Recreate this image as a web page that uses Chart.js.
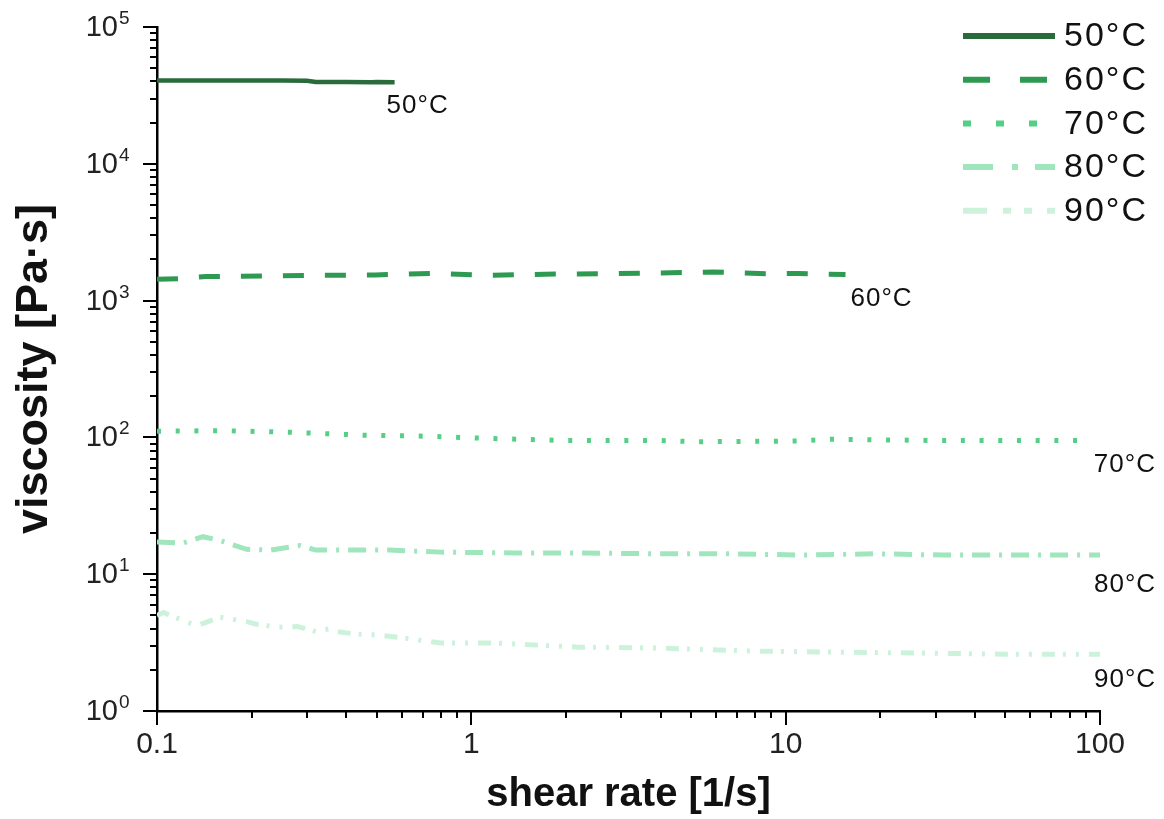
<!DOCTYPE html>
<html>
<head>
<meta charset="utf-8">
<script src="https://cdn.jsdelivr.net/npm/chart.js@4.4.1/dist/chart.umd.min.js"></script>
<style>
html, body { margin: 0; padding: 0; background: #fff; }
#wrap { width: 1164px; height: 819px; }
</style>
</head>
<body>
<div id="wrap"><canvas id="grafico" width="1164" height="819"></canvas></div>
<script>
// series names
var temps = ['50°C', '60°C', '70°C', '80°C', '90°C'];

// shear rate [1/s] / viscosity [Pa·s]
var shear50 = [0.1, 0.15, 0.2, 0.25, 0.3, 0.32, 0.4, 0.48, 0.5, 0.57];
var visc50  = [40600, 40600, 40600, 40600, 40500, 39700, 39600, 39400, 39600, 39500];

var shear60 = [0.1, 0.12, 0.143, 0.216, 0.33, 0.494, 0.75, 1.14, 1.71, 2.57, 3.94, 5.9, 8.9, 11, 13.6, 15.5];
var visc60  = [1430, 1450, 1500, 1510, 1530, 1540, 1580, 1530, 1560, 1570, 1590, 1620, 1570, 1580, 1560, 1550];

var shear70 = [0.1, 0.162, 0.269, 0.44, 0.72, 1.17, 1.94, 4.0, 5.1, 10.9, 14, 29, 50, 85];
var visc70  = [111, 112, 109, 104, 102, 98, 95, 95, 93, 94, 97, 95, 95, 95];

var shear80 = [0.1, 0.121, 0.14, 0.159, 0.193, 0.23, 0.285, 0.32, 0.55, 0.8, 1.37, 2.3, 3.8, 6.7, 11.4, 19.5, 31.7, 54, 100];
var visc80  = [17.2, 16.9, 18.8, 17.6, 15.2, 15.0, 16.2, 15.0, 15.0, 14.5, 14.3, 14.3, 14.1, 14.1, 13.8, 14.1, 13.8, 13.8, 13.8];

var shear90 = [0.1, 0.105, 0.115, 0.134, 0.159, 0.193, 0.208, 0.243, 0.28, 0.32, 0.355, 0.375, 0.43, 0.5, 0.59, 0.8, 1.19, 2.2, 4.1, 8.05, 15, 28, 51.8, 100];
var visc90  = [5.0, 5.25, 4.8, 4.2, 4.85, 4.5, 4.3, 4.1, 4.15, 3.8, 4.0, 3.8, 3.65, 3.6, 3.45, 3.14, 3.14, 2.93, 2.88, 2.74, 2.69, 2.65, 2.6, 2.6];

var xTickLabels = ['0.1', '1', '10', '100'];
var yTickBase = '10';
var yTickExp = ['0', '1', '2', '3', '4', '5'];

// estilos
var colores   = ['#2a6b3c', '#2e9950', '#55cf85', '#a0e6bd', '#cdf2dc'];
var anchos    = [4.5, 5, 5, 5, 5];
var guiones   = [[], [21, 21], [4, 14.7], [18, 9, 3, 9], [13, 8, 3, 10, 3, 10]];
var guionesLeyenda = [[], [27, 30], [8, 25], [30, 19, 6, 17], [24, 16, 8, 13, 8, 15]];
var offsetsEtiqueta = [[-8, 24], [5, 24], [16, 24], [-6, 30], [-6, 26]];

var fuente = "'Liberation Sans', Arial, sans-serif";

function puntos(xs, ys) {
    return xs.map(function (x, i) { return {x: x, y: ys[i]}; });
}

function esDecada(v) {
    var l = Math.log10(v);
    return Math.abs(l - Math.round(l)) < 1e-6;
}

function ticksLog(eMin, eMax) {
    var t = [];
    for (var e = eMin; e < eMax; e++) {
        for (var s = 1; s <= 9; s++) {
            t.push({value: s * Math.pow(10, e)});
        }
    }
    t.push({value: Math.pow(10, eMax)});
    return t;
}

var datos = [[shear50, visc50], [shear60, visc60], [shear70, visc70], [shear80, visc80], [shear90, visc90]];

var datasets = datos.map(function (d, i) {
    return {
        label: temps[i],
        data: puntos(d[0], d[1]),
        borderColor: colores[i],
        backgroundColor: colores[i],
        borderWidth: anchos[i],
        borderDash: guiones[i],
        borderCapStyle: 'butt',
        pointRadius: 0,
        tension: 0,
        fill: false
    };
});

function espaciado(ctx, v) {
    if ('letterSpacing' in ctx) ctx.letterSpacing = v;
}

// tick marks, y labels with exponent, legend and end labels
var marcas = {
    id: 'marcas',
    afterDraw: function (chart) {
        var ctx = chart.ctx;
        var area = chart.chartArea;
        var sx = chart.scales.x, sy = chart.scales.y;
        ctx.save();
        ctx.strokeStyle = '#000';
        ctx.lineWidth = 2;
        ctx.setLineDash([]);
        sx.ticks.forEach(function (t) {
            var px = Math.round(sx.getPixelForValue(t.value));
            var len = esDecada(t.value) ? 14 : 7;
            ctx.beginPath();
            ctx.moveTo(px, area.bottom);
            ctx.lineTo(px, area.bottom + len);
            ctx.stroke();
        });
        ctx.fillStyle = '#222';
        ctx.textBaseline = 'middle';
        sy.ticks.forEach(function (t) {
            var py = Math.round(sy.getPixelForValue(t.value));
            var dec = esDecada(t.value);
            var len = dec ? 14 : 7;
            ctx.beginPath();
            ctx.moveTo(area.left, py);
            ctx.lineTo(area.left - len, py);
            ctx.stroke();
            if (dec) {
                ctx.textAlign = 'right';
                ctx.font = '29px ' + fuente;
                ctx.fillText(yTickBase, area.left - 39, py + 1);
                ctx.textAlign = 'left';
                ctx.font = '19px ' + fuente;
                ctx.fillText(yTickExp[Math.round(Math.log10(t.value))], area.left - 38, py - 8);
            }
        });

        // leyenda
        ctx.textAlign = 'left';
        ctx.textBaseline = 'middle';
        ctx.fillStyle = '#111';
        espaciado(ctx, '2px');
        ctx.font = '34px ' + fuente;
        temps.forEach(function (t, i) {
            var y = 36 + i * 43.7;
            ctx.strokeStyle = colores[i];
            ctx.lineWidth = 6;
            ctx.setLineDash(guionesLeyenda[i]);
            ctx.beginPath();
            ctx.moveTo(963, y);
            ctx.lineTo(1055, y);
            ctx.stroke();
            ctx.fillText(t, 1064, y + 1);
        });

        // etiquetas al final de cada curva
        ctx.font = '26px ' + fuente;
        espaciado(ctx, '1px');
        chart.data.datasets.forEach(function (ds, i) {
            var meta = chart.getDatasetMeta(i);
            var last = meta.data[meta.data.length - 1];
            ctx.fillText(ds.label, last.x + offsetsEtiqueta[i][0], last.y + offsetsEtiqueta[i][1]);
        });
        ctx.restore();
    }
};

new Chart(document.getElementById('grafico'), {
    type: 'line',
    data: {datasets: datasets},
    options: {
        responsive: false,
        devicePixelRatio: 1,
        animation: false,
        layout: {padding: {left: 0, top: 27, right: 64, bottom: 0}},
        plugins: {
            legend: {display: false},
            tooltip: {enabled: false}
        },
        scales: {
            x: {
                type: 'logarithmic',
                min: 0.1,
                max: 100,
                afterBuildTicks: function (scale) { scale.ticks = ticksLog(-1, 2); },
                afterFit: function (scale) {
                    scale.height = 108;
                    scale.paddingLeft = 0;
                    scale.paddingRight = 0;
                },
                grid: {display: false, drawTicks: false},
                border: {display: true, color: '#000', width: 2.5},
                ticks: {
                    autoSkip: false,
                    maxRotation: 0,
                    padding: 16,
                    color: '#222',
                    font: {family: fuente, size: 30},
                    callback: function (v) {
                        if (!esDecada(v)) return '';
                        return xTickLabels[Math.round(Math.log10(v)) + 1];
                    }
                },
                title: {
                    display: true,
                    text: 'shear rate [1/s]',
                    color: '#111',
                    font: {family: fuente, size: 40, weight: 'bold'},
                    padding: {top: 0, bottom: 0}
                }
            },
            y: {
                type: 'logarithmic',
                min: 1,
                max: 100000,
                afterBuildTicks: function (scale) { scale.ticks = ticksLog(0, 5); },
                afterFit: function (scale) {
                    scale.width = 157;
                    scale.paddingTop = 0;
                    scale.paddingBottom = 0;
                },
                grid: {display: false, drawTicks: false},
                border: {display: true, color: '#000', width: 2.5},
                ticks: {
                    autoSkip: false,
                    padding: 25,
                    callback: function () { return ''; }
                },
                title: {
                    display: true,
                    text: 'viscosity [Pa·s]',
                    color: '#111',
                    font: {family: fuente, size: 45, weight: 'bold'},
                    padding: {top: 8, bottom: 0}
                }
            }
        }
    },
    plugins: [marcas]
});
</script>
</body>
</html>
